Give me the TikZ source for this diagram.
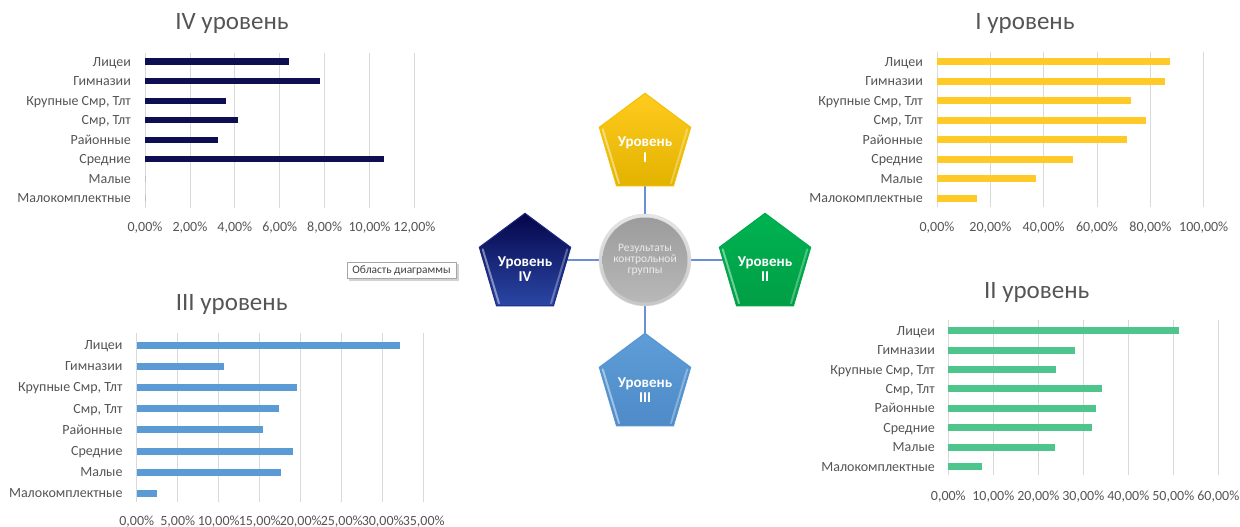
\documentclass[tikz,border=0pt]{standalone}
\usepackage{fontspec}
\setmainfont{Carlito}
\pgfdeclarelayer{bgw}
\pgfdeclarelayer{conn}
\pgfsetlayers{bgw,conn,main}
\definecolor{txt}{HTML}{555555}
\definecolor{gridc}{HTML}{D9D9D9}
\definecolor{barI}{HTML}{FFCA28}
\definecolor{barII}{HTML}{4EC58C}
\definecolor{barIII}{HTML}{5B9BD5}
\definecolor{barIV}{HTML}{0E0E52}
\definecolor{connc}{HTML}{6A8FD6}
\definecolor{pIt}{HTML}{FFCB1F}\definecolor{pIb}{HTML}{E3B300}\definecolor{pIe}{HTML}{F2C000}
\definecolor{pIIt}{HTML}{00B352}\definecolor{pIIb}{HTML}{009E45}\definecolor{pIIe}{HTML}{00A84C}
\definecolor{pIIIt}{HTML}{5E9DD8}\definecolor{pIIIb}{HTML}{4E8BC8}\definecolor{pIIIe}{HTML}{5896D2}
\definecolor{pIVt}{HTML}{05054A}\definecolor{pIVb}{HTML}{2A47A5}\definecolor{pIVe}{HTML}{1A2A80}
\definecolor{cint}{HTML}{9C9C9C}\definecolor{cinb}{HTML}{B8B8B8}
\tikzset{
 gridline/.style={draw=gridc, line width=0.8pt},
 ticklab/.style={text=txt, font=\fontsize{14}{16}\selectfont, inner sep=0pt, anchor=base},
 catlab/.style={text=txt, font=\fontsize{14}{16}\selectfont, inner sep=0pt, anchor=base east},
 charttitle/.style={text=txt, font=\fontsize{25}{30}\selectfont, inner sep=0pt, anchor=base},
 connline/.style={draw=connc, line width=1.5pt},
 pentlab/.style={text=white, font=\bfseries\fontsize{15}{15.5}\selectfont, align=center, inner sep=0pt},
 circlab/.style={text=white!92!black, font=\fontsize{11.5}{11}\selectfont, align=center, inner sep=0pt},
 bevel/.style={draw=white, line width=2pt, line cap=round},
}
% #1 prefix, #2 x0, #3 k, #4 ticks, #5 grid top, #6 grid bottom, #7 tick base y
\newcommand\chartgrid[7]{%
 \foreach \t in {#4} {\draw[gridline] (#2+#3*\t,#5) -- (#2+#3*\t,#6);
   \node[ticklab] (#1t\t) at (#2+#3*\t,#7) {\t,00\%};}}
% #1 prefix, #2 label x, #3 y0, #4 dy
\newcommand\chartcats[4]{%
 \foreach \lab [count=\i from 0] in {Лицеи,Гимназии,{Крупные Смр, Тлт},{Смр, Тлт},Районные,Средние,Малые,Малокомплектные}
   \node[catlab] (#1c\i) at (#2,#3+#4*\i+4.5) {\lab};}
% #1 x0, #2 k, #3 y0, #4 dy, #5 half height, #6 colour, #7 values
\newcommand\chartbars[7]{%
 \foreach \v [count=\i from 0] in {#7}
   \fill[#6] (#1,#3+#4*\i-#5) rectangle (#1+#2*\v,#3+#4*\i+#5);}
% #1 cx, #2 top y, #3 top colour, #4 bottom colour, #5 edge colour
\newcommand\pentshape[5]{%
 \shade[top color=#3, bottom color=#4, draw=#5, line width=1pt]
  (#1,#2) -- (#1+45.7,#2+34) -- (#1+28.5,#2+92.5) -- (#1-28.5,#2+92.5) -- (#1-45.7,#2+34) -- cycle;
 \draw[bevel, opacity=0.45] (#1-42.3,#2+36) -- (#1-26,#2+90);
 \draw[bevel, opacity=0.3] (#1+42.3,#2+36) -- (#1+26,#2+90);}
\begin{document}
\begin{tikzpicture}[x=1pt,y=-1pt]
\useasboundingbox (0,0) rectangle (1240,527);
\begin{pgfonlayer}{bgw}
\fill[white] (0,0) rectangle (1240,527);
\end{pgfonlayer}

% ---- IV chart
\chartgrid{iv}{145}{22.45}{0,2,...,12}{53}{208}{231}
\chartcats{iv}{131}{61.7}{19.5}
\chartbars{145}{22.45}{61.7}{19.5}{3.2}{barIV}{6.41,7.78,3.62,4.16,3.27,10.66,0,0}
\node[charttitle] (tiv) at (232,29.5) {IV уровень};

% ---- I chart
\chartgrid{i}{937}{2.667}{0,20,...,100}{51.7}{206.7}{231.5}
\chartcats{i}{923}{61.7}{19.5}
\chartbars{937}{2.667}{61.7}{19.5}{3.5}{barI}{87.4,85.4,72.7,78.4,71.3,50.9,37.1,14.9}
\node[charttitle] (ti) at (1025,29.5) {I уровень};

% ---- III chart
\chartgrid{iii}{136.7}{8.2}{0,5,...,35}{333}{502}{525.7}
\chartcats{iii}{122.7}{345}{21.2}
\chartbars{136.7}{8.2}{345}{21.2}{3.5}{barIII}{32.1,10.69,19.5,17.4,15.4,19.1,17.6,2.48}
\node[charttitle] (tiii) at (231.7,310.7) {III уровень};

% ---- II chart
\chartgrid{ii}{948.3}{4.5}{0,10,...,60}{320}{475}{500}
\chartcats{ii}{935}{330.7}{19.43}
\chartbars{948.3}{4.5}{330.7}{19.43}{3.5}{barII}{51.3,28.2,23.9,34.1,32.9,31.9,23.6,7.5}
\node[charttitle] (tii) at (1036.7,298.3) {II уровень};

% ---- central scheme
\pentshape{645}{93.3}{pIt}{pIb}{pIe}
\pentshape{765}{213.3}{pIIt}{pIIb}{pIIe}
\pentshape{645}{333.3}{pIIIt}{pIIIb}{pIIIe}
\pentshape{525}{213.3}{pIVt}{pIVb}{pIVe}
\node[pentlab] (p1) at (645,149.5) {Уровень\\I};
\node[pentlab] (p2) at (765,269.2) {Уровень\\II};
\node[pentlab] (p3) at (645,390) {Уровень\\III};
\node[pentlab] (p4) at (525,269.2) {Уровень\\IV};

\node[circle, minimum size=92pt, inner sep=0pt, top color=gray!20, bottom color=gray!45, draw=gray!25] (c) at (645,260) {};
\shade[top color=cint, bottom color=cinb] (c.center) circle (42.5);
\node[circlab] (ct) at (645,259.3) {Результаты\\контрольной\\группы};

\begin{pgfonlayer}{conn}
\draw[connline] (c) -- (c |- p1);
\draw[connline] (c) -- (c |- p3);
\draw[connline] (c) -- (c -| p2);
\draw[connline] (c) -- (c -| p4);
\end{pgfonlayer}

% ---- tooltip
\fill[gray!35] (349,264) rectangle (458.5,280.5);
\node[draw=gray!70, fill=white, minimum width=109, minimum height=16, inner sep=0pt,
  text=black!75, font=\fontsize{11.4}{12}\selectfont] (tip) at (401.5,270.3) {Область диаграммы};
\end{tikzpicture}
\end{document}
